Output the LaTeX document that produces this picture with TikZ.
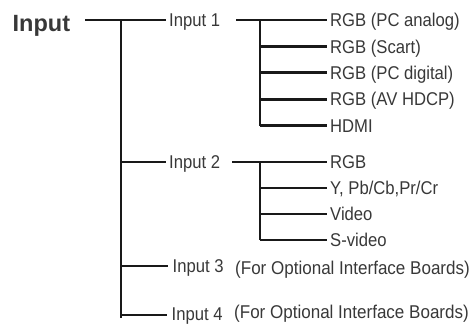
\documentclass[tikz,border=0pt]{standalone}
\usepackage{fontspec}
\setmainfont[FakeStretch=0.9]{Liberation Sans}
\newfontfamily\headfont{Liberation Sans}

\begin{document}
\begin{tikzpicture}[x=1pt, y=-1pt]
% Input signal tree, units are pixels of the original sheet
\def\rowsz{26.4}
\providecommand{\treeLineColor}{black!90}
\providecommand{\treeTextColor}{black!78}
\providecommand{\treeLineWidth}{2.8pt}
\tikzset{
  wire/.style={draw=\treeLineColor, line width=\treeLineWidth},
  leaf/.style={anchor=west, inner xsep=3pt, inner ysep=0pt, text height=13.2pt, text depth=0pt,
    font=\fontsize{18.5}{20}\selectfont, text=\treeTextColor},
}
\useasboundingbox (0,0) rectangle (474,325);
  % Root label
  \node[anchor=base west, inner sep=0pt, text=\treeTextColor, font=\headfont\bfseries\fontsize{23.5}{26}\selectfont] (root) at (12.5,31) {Input};
  \coordinate (rootTip) at (85,20);
  % First level
  \node[leaf] (in1) at (166,20) {Input 1};
  \node[leaf] (in2) at (166,162) {Input 2};
  \node[leaf, inner xsep=4.5pt] (in3) at (168,266) {Input 3};
  \node[leaf, inner xsep=4.5pt] (in4) at (167,313.5) {Input 4};
  \coordinate (trunkTop) at (121,20);
  \coordinate (trunkBot) at (121,317.5);
  \coordinate (j4) at (121,315);
  % Leaves of Input 1
  \node[leaf] (pcAnalog) at (327,20) {RGB (PC analog)};
  \node[leaf] (scart) at (327,20+\rowsz) {RGB (Scart)};
  \node[leaf] (pcDigital) at (327,20+2*\rowsz) {RGB (PC digital)};
  \node[leaf] (avHdcp) at (327,20+3*\rowsz) {RGB (AV HDCP)};
  \node[leaf] (hdmi) at (327,20+4*\rowsz) {HDMI};
  \coordinate (sub1) at (260,20);
  % Leaves of Input 2
  \node[leaf] (rgb) at (327,162) {RGB};
  \node[leaf] (ypbpr) at (327,188) {Y, Pb/Cb,Pr/Cr};
  \node[leaf] (video) at (327,214) {Video};
  \node[leaf] (svideo) at (327,240) {S-video};
  \coordinate (sub2) at (260,162);
  % Optional boards
  \node[leaf, inner xsep=0pt, font=\addfontfeature{FakeStretch=0.92}\fontsize{18.5}{20}\selectfont] (opt3) at (235,268) {(For Optional Interface Boards)};
  \node[leaf, inner xsep=0pt, font=\addfontfeature{FakeStretch=0.92}\fontsize{18.5}{20}\selectfont] (opt4) at (234,312) {(For Optional Interface Boards)};
  % Connectors
  \begin{scope}[wire]
    \draw (rootTip) -- (in1.west);
    \draw (trunkTop) -- (trunkBot);
    \draw (trunkTop |- in2.west) -- (in2.west);
    \draw (trunkTop |- in3.west) -- (in3.west);
    \draw (j4) -- (j4 -| in4.west);
    % Input 1 branch
    \draw ([xshift=13pt]in1.east) -- (pcAnalog.west);
    \draw (sub1) -- (sub1 |- hdmi.west);
    \draw (sub1 |- scart.west) -- (scart.west);
    \draw (sub1 |- pcDigital.west) -- (pcDigital.west);
    \draw (sub1 |- avHdcp.west) -- (avHdcp.west);
    \draw (sub1 |- hdmi.west) -- (hdmi.west);
    % Input 2 branch
    \draw ([xshift=9pt]in2.east) -- (rgb.west);
    \draw (sub2) -- (sub2 |- svideo.west);
    \draw (sub2 |- ypbpr.west) -- (ypbpr.west);
    \draw (sub2 |- video.west) -- (video.west);
    \draw (sub2 |- svideo.west) -- (svideo.west);
  \end{scope}
\end{tikzpicture}
\end{document}
